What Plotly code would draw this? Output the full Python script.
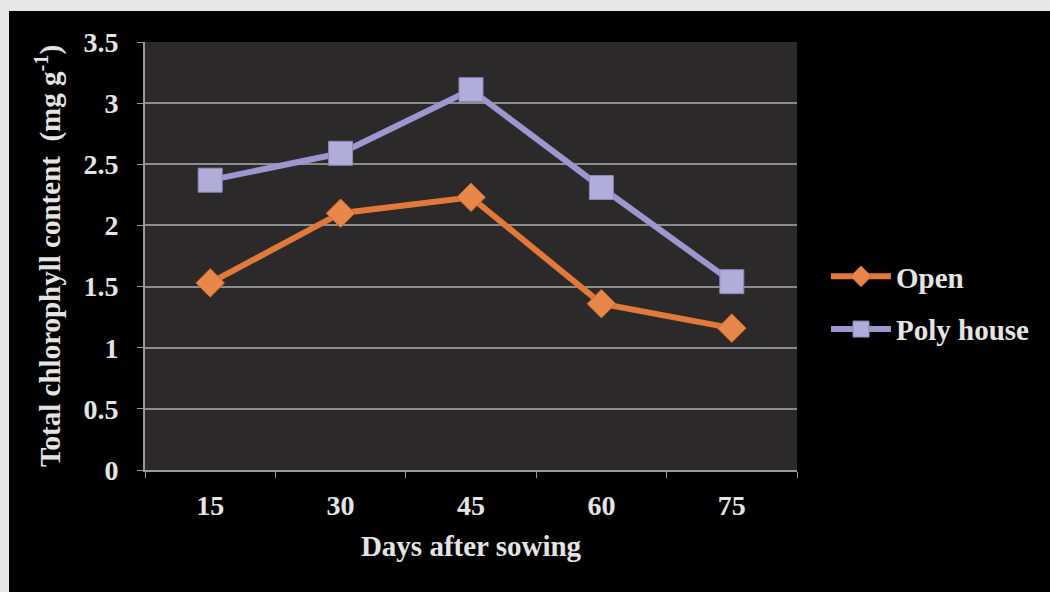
import plotly.graph_objects as go

days = ["15", "30", "45", "60", "75"]
open_vals = [1.53, 2.10, 2.23, 1.36, 1.16]
poly_vals = [2.37, 2.59, 3.11, 2.31, 1.54]
y_ticks = [0, 0.5, 1, 1.5, 2, 2.5, 3, 3.5]
y_tick_text = ["0", "0.5", "1", "1.5", "2", "2.5", "3", "3.5"]

W, H = 1050, 592
L, R, T, B = 145, 253, 42, 122
pw, ph = W - L - R, H - T - B

def px_x(p):
    return (p - L) / pw

def px_y(p):
    return (H - B - p) / ph

font_family = "Liberation Serif"
txt_col = "#e4e4e4"
border_col = "#e8e8e8"

fig = go.Figure()
fig.add_trace(go.Scatter(
    x=days, y=open_vals, name="<b>Open</b>", mode="lines+markers",
    legendgroup="open",
    line=dict(color="#E2793A", width=6),
    marker=dict(symbol="diamond", size=22, color="#E8874A",
                line=dict(color="#C9652A", width=1)),
))
fig.add_trace(go.Scatter(
    x=days, y=poly_vals, name="<b>Poly house</b>", mode="lines+markers",
    legendgroup="poly",
    line=dict(color="#9C97CF", width=6),
    marker=dict(symbol="square", size=24, color="#B1ADD9",
                line=dict(color="#8C87BF", width=1)),
))

fig.update_layout(
    width=W, height=H,
    margin=dict(l=L, r=R, t=T, b=B),
    paper_bgcolor="black",
    plot_bgcolor="#2b2929",
    font=dict(family=font_family, color=txt_col, size=20),
    showlegend=True,
    legend=dict(x=px_x(826), y=px_y(251), xanchor="left", yanchor="top",
                bgcolor="rgba(0,0,0,0)", font=dict(size=29, color=txt_col),
                tracegroupgap=12, itemwidth=60),
    shapes=[
        dict(type="rect", xref="paper", yref="paper",
             x0=px_x(-2), x1=px_x(1052), y0=px_y(11), y1=px_y(-2),
             fillcolor=border_col, line=dict(width=0)),
        dict(type="rect", xref="paper", yref="paper",
             x0=px_x(-2), x1=px_x(9), y0=px_y(594), y1=px_y(-2),
             fillcolor=border_col, line=dict(width=0)),
    ],
    xaxis=dict(
        type="category", range=[-0.5, 4.5], tickson="boundaries",
        ticks="outside", ticklen=6,
        tickcolor="#9a9a9a", showgrid=False, showline=True, linecolor="#9a9a9a",
        linewidth=2, tickfont=dict(size=28), ticklabelstandoff=9,
        title=dict(text="<b>Days after sowing</b>", font=dict(size=29), standoff=16),
        tickprefix="<b>", ticksuffix="</b>",
    ),
    yaxis=dict(
        range=[0, 3.5], tickvals=y_ticks, ticktext=["<b>%s</b>" % t for t in y_tick_text],
        ticks="outside", ticklen=6, tickcolor="#9a9a9a", showgrid=True,
        gridcolor="#8c8c8c", gridwidth=2, showline=True, linecolor="#9a9a9a",
        linewidth=2, zeroline=False, tickfont=dict(size=28), ticklabelstandoff=13,
        title=dict(text="<b>Total chlorophyll content  (mg g<sup>-1</sup>)</b>",
                   font=dict(size=29), standoff=14),
    ),
)

fig.write_html("out.html")
